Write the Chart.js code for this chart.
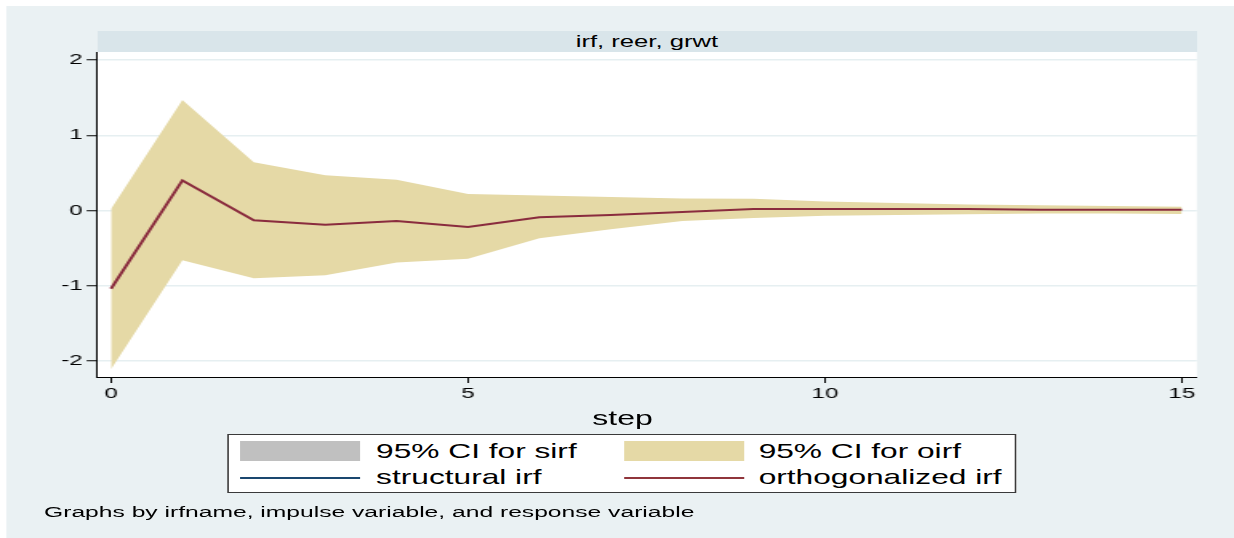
<!DOCTYPE html>
<html>
<head>
<meta charset="utf-8">
<script src="https://cdn.jsdelivr.net/npm/chart.js@4.4.1/dist/chart.umd.min.js"></script>
<style>
    html, body { margin: 0; padding: 0; background: #ffffff; }
    body { width: 1234px; height: 538px; overflow: hidden; position: relative; font-family: "Liberation Sans", Arial, sans-serif; }
    /* the original export is stretched sideways, so the whole graph is drawn narrow and scaled */
    #stage { position: absolute; left: 0; top: 0; width: 771px; height: 538px; transform: scaleX(1.6005); transform-origin: 0 0; }
    #panel { position: absolute; left: 3.75px; top: 6px; right: 0; bottom: 0; background: #eaf1f3; }
    #chartBox { position: absolute; left: 0; top: 0; width: 771px; height: 538px; }
    #strip { position: absolute; left: 60.6px; top: 31px; width: 687.2px; height: 21px; background: #d9e5ea;
             font-size: 16px; line-height: 21px; text-align: center; color: #000; }
    .txt { position: absolute; color: #000; white-space: nowrap; line-height: 1; }
    #xTitle { font-size: 20px; top: 408px; left: 389px; transform: translateX(-50%); }
    #legend { position: absolute; left: 142px; top: 434px; width: 493px; height: 59px; background: #fff; border: 1px solid #3a3a3a; box-sizing: border-box; }
    .sw { position: absolute; width: 74.6px; height: 20px; }
    .ln { position: absolute; width: 74.6px; height: 2px; }
    .lg { font-size: 19.8px; }
    #note { font-size: 15.4px; top: 504px; left: 27.5px; }
</style>
</head>
<body>
<div id="stage">
    <div id="panel"></div>
    <div id="strip">irf, reer, grwt</div>
    <div id="chartBox"><canvas id="irfChart"></canvas></div>
    <div id="xTitle" class="txt">step</div>
    <div id="legend">
        <div class="sw" style="left:7px; top:6px; background:#c0c0c0;"></div>
        <div class="txt lg" style="left:92px; top:7px;">95% CI for sirf</div>
        <div class="sw" style="left:247px; top:6px; background:#e5d9a6;"></div>
        <div class="txt lg" style="left:331px; top:7px;">95% CI for oirf</div>
        <div class="ln" style="left:7px; top:41.7px; background:#1a476f;"></div>
        <div class="txt lg" style="left:92px; top:33px;">structural irf</div>
        <div class="ln" style="left:247px; top:41.7px; background:#90353b;"></div>
        <div class="txt lg" style="left:331px; top:33px;">orthogonalized irf</div>
    </div>
    <div id="note" class="txt">Graphs by irfname, impulse variable, and response variable</div>
</div>

<script>
// Steps and values
const steps = [0, 1, 2, 3, 4, 5, 6, 7, 8, 9, 10, 11, 12, 13, 14, 15];
const oirf = [-1.04, 0.40, -0.13, -0.19, -0.14, -0.22, -0.09, -0.06, -0.02, 0.02, 0.02, 0.02, 0.02, 0.01, 0.01, 0.01];
const oirfUpper = [0.02, 1.47, 0.64, 0.47, 0.41, 0.22, 0.20, 0.18, 0.16, 0.155, 0.12, 0.10, 0.08, 0.07, 0.06, 0.05];
const oirfLower = [-2.11, -0.66, -0.90, -0.86, -0.69, -0.64, -0.37, -0.25, -0.14, -0.10, -0.07, -0.06, -0.05, -0.04, -0.04, -0.045];
const xTicks = [0, 5, 10, 15];
const yTicks = [-2, -1, 0, 1, 2];

const toPoints = arr => arr.map((v, i) => ({ x: steps[i], y: v }));

// White plot region behind the data
const plotBackground = {
    id: 'plotBackground',
    beforeDraw(chart) {
        const { ctx, chartArea } = chart;
        ctx.save();
        ctx.fillStyle = '#ffffff';
        ctx.fillRect(chartArea.left, chartArea.top, chartArea.right - chartArea.left, chartArea.bottom - chartArea.top);
        ctx.restore();
    }
};

const tickFont = { family: '"Liberation Sans", Arial, sans-serif', size: 15 };

new Chart(document.getElementById('irfChart').getContext('2d'), {
    type: 'line',
    data: {
        datasets: [
            {
                label: '95% CI for oirf',
                data: toPoints(oirfUpper),
                borderWidth: 0,
                pointRadius: 0,
                backgroundColor: '#e5d9a6',
                fill: '+1',
                tension: 0
            },
            {
                label: 'lower',
                data: toPoints(oirfLower),
                borderWidth: 0,
                pointRadius: 0,
                fill: false,
                tension: 0
            },
            {
                label: 'orthogonalized irf',
                data: toPoints(oirf),
                borderColor: '#8a2c3e',
                borderWidth: 2,
                pointRadius: 0,
                fill: false,
                tension: 0
            }
        ]
    },
    options: {
        responsive: true,
        maintainAspectRatio: false,
        animation: false,
        events: [],
        layout: { padding: { top: 52, right: 23.2, bottom: 0, left: 0 } },
        plugins: {
            legend: { display: false },
            tooltip: { enabled: false },
            title: { display: false },
            filler: { drawTime: 'beforeDatasetsDraw' }
        },
        scales: {
            x: {
                type: 'linear',
                min: -0.196,
                max: 15.21,
                afterBuildTicks: scale => { scale.ticks = xTicks.map(v => ({ value: v })); },
                afterFit: scale => { scale.height = 161; },
                grid: { drawOnChartArea: false, drawTicks: true, tickLength: 6, tickColor: '#000', tickWidth: 1 },
                border: { display: true, color: '#000', width: 1 },
                ticks: { color: '#000', font: tickFont, padding: 2, maxRotation: 0 }
            },
            y: {
                type: 'linear',
                min: -2.213,
                max: 2.107,
                afterBuildTicks: scale => { scale.ticks = yTicks.map(v => ({ value: v })); },
                afterFit: scale => { scale.width = 60.6; },
                grid: { color: '#e6eff1', lineWidth: 1.5, drawTicks: true, tickLength: 6.5, tickColor: '#000', tickWidth: 1 },
                border: { display: true, color: '#000', width: 1 },
                ticks: { color: '#000', font: tickFont, padding: 2.5 }
            }
        }
    },
    plugins: [plotBackground]
});
</script>
</body>
</html>
